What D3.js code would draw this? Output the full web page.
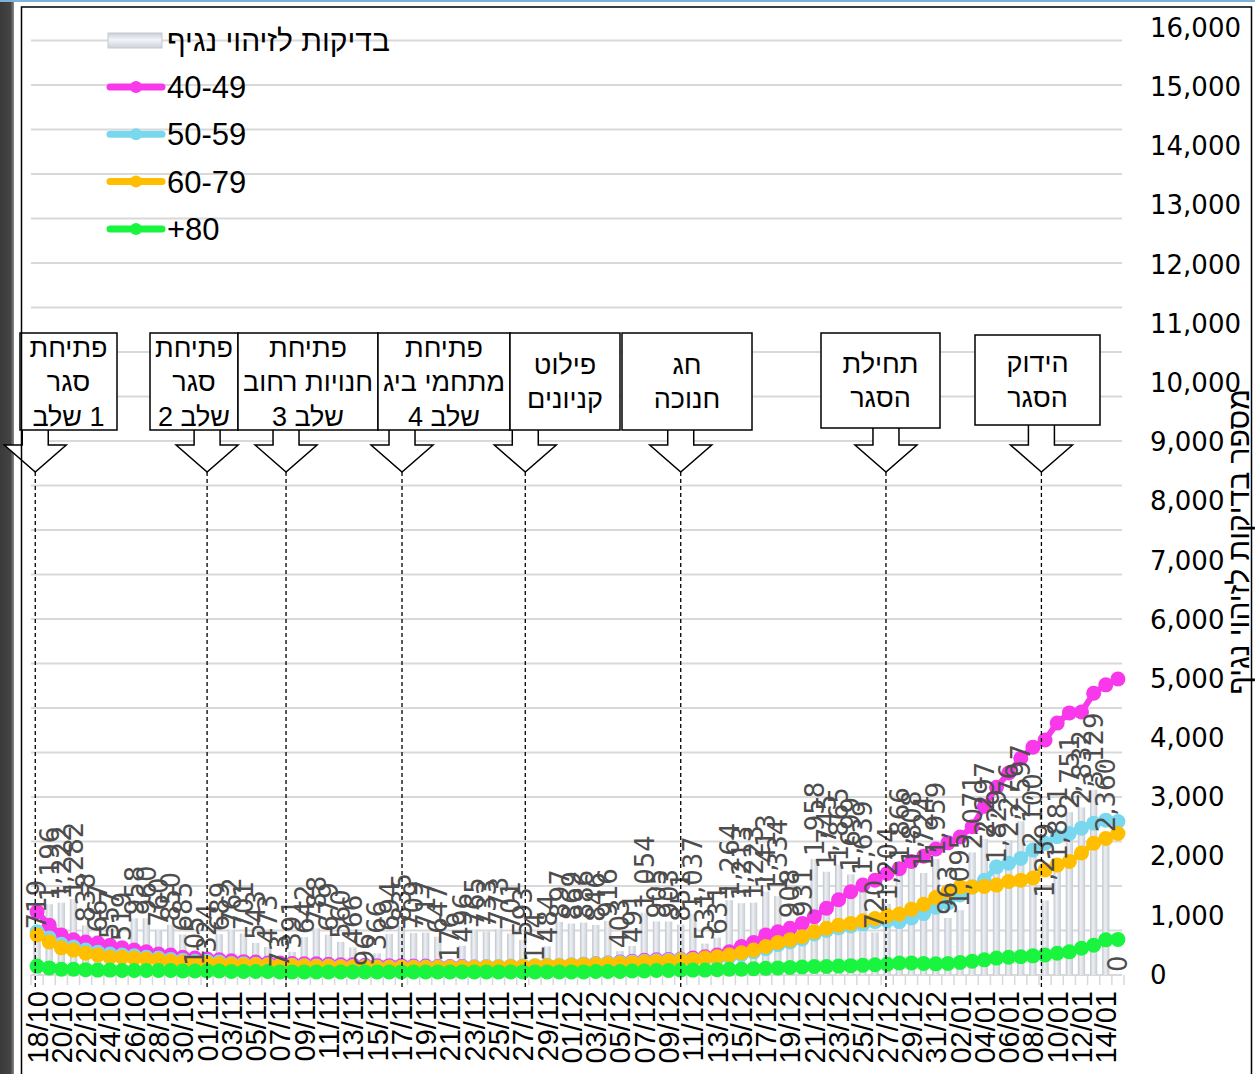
<!DOCTYPE html>
<html>
<head>
<meta charset="utf-8">
<script src="https://cdn.jsdelivr.net/npm/d3@7"></script>
<style>
  body { margin: 0; background: #fff; }
  svg { display: block; }
</style>
</head>
<body>
<svg id="chart" width="1255" height="1074"></svg>
<script>
// daily categories 18/10 .. 15/01
const dates = [
  "18/10","19/10","20/10","21/10","22/10","23/10","24/10","25/10","26/10","27/10","28/10","29/10","30/10","31/10",
  "01/11","02/11","03/11","04/11","05/11","06/11","07/11","08/11","09/11","10/11","11/11","12/11","13/11","14/11","15/11",
  "16/11","17/11","18/11","19/11","20/11","21/11","22/11","23/11","24/11","25/11","26/11","27/11","28/11","29/11","30/11",
  "01/12","02/12","03/12","04/12","05/12","06/12","07/12","08/12","09/12","10/12","11/12","12/12","13/12","14/12","15/12",
  "16/12","17/12","18/12","19/12","20/12","21/12","22/12","23/12","24/12","25/12","26/12","27/12","28/12","29/12","30/12","31/12",
  "01/01","02/01","03/01","04/01","05/01","06/01","07/01","08/01","09/01","10/01","11/01","12/01","13/01","14/01","15/01"
];

// bars: tests for virus detection (right axis)
const tests = [
  719, 1196, 1222, 1282, 838, 667, 557, 519, 958, 960,
  760, 850, 685, 105, 324, 689, 762, 701, 543, 473,
  73, 391, 642, 788, 679, 560, 466, 96, 366, 694,
  835, 709, 717, 647, 176, 496, 765, 733, 773, 701,
  593, 174, 484, 897, 869, 886, 846, 916, 403, 491,
  1054, 905, 903, 851, 1037, 531, 631, 1264, 1213, 1223,
  1413, 1334, 908, 931, 1958, 1745, 1865, 1699, 1639, 720,
  1204, 1866, 1808, 1724, 1959, 963, 1095, 2071, 2297, 1829,
  2276, 2597, 2100, 1259, 1881, 2751, 2832, 3129, 2360, 0
];

// age group lines (hidden primary axis)
const age4049 = [
  142, 112, 90, 79, 74, 72, 67, 61, 56, 52,
  47, 45, 40, 38, 36, 34, 32, 30, 29, 27,
  27, 26, 25, 25, 24, 23, 23, 22, 21, 21,
  21, 20, 20, 19, 19, 19, 18, 18, 17, 17,
  17, 18, 19, 20, 22, 24, 25, 27, 29, 31,
  33, 34, 35, 36, 38, 41, 45, 52, 64, 73,
  90, 97, 105, 116, 131, 150, 169, 187, 202, 213,
  228, 239, 255, 267, 283, 297, 310, 333, 379, 422,
  454, 487, 512, 528, 566, 589, 591, 633, 652, 665
];
const age5059 = [
  97, 83, 69, 63, 56, 51, 47, 45, 43, 40,
  38, 35, 33, 31, 31, 29, 26, 25, 24, 23,
  22, 22, 21, 20, 20, 19, 19, 19, 18, 18,
  18, 18, 18, 18, 18, 18, 18, 19, 19, 20,
  20, 21, 22, 22, 23, 24, 25, 27, 28, 29,
  31, 32, 33, 35, 35, 37, 37, 41, 46, 52,
  59, 68, 74, 81, 92, 100, 106, 110, 115, 120,
  122, 120, 128, 138, 152, 162, 180, 198, 213, 243,
  251, 262, 281, 296, 311, 318, 330, 341, 348, 345
];
const age6079 = [
  90, 74, 61, 56, 49, 45, 40, 40, 38, 36,
  34, 31, 29, 27, 27, 25, 24, 23, 23, 22,
  21, 21, 20, 19, 19, 18, 18, 18, 17, 17,
  17, 17, 17, 17, 17, 17, 17, 18, 18, 19,
  19, 20, 21, 21, 22, 23, 24, 25, 26, 27,
  29, 30, 31, 33, 34, 38, 41, 45, 50, 56,
  64, 73, 79, 86, 97, 105, 112, 116, 122, 127,
  133, 137, 148, 159, 174, 187, 198, 198, 199, 202,
  210, 213, 218, 236, 247, 255, 274, 296, 307, 318
];
const age80 = [
  20, 16, 13, 13, 12, 11, 11, 10, 10, 10,
  10, 10, 9, 9, 9, 9, 8, 8, 8, 8,
  7, 7, 7, 7, 7, 7, 7, 7, 7, 7,
  7, 7, 7, 7, 7, 7, 7, 7, 7, 7,
  7, 7, 7, 7, 7, 7, 8, 8, 8, 9,
  9, 10, 10, 11, 11, 11, 12, 13, 13, 14,
  15, 16, 17, 18, 19, 19, 20, 21, 22, 23,
  24, 27, 27, 26, 25, 26, 28, 31, 34, 38,
  40, 41, 43, 45, 49, 52, 60, 67, 79, 80
];

const barName = "בדיקות לזיהוי נגיף";
const seriesNames = ["40-49", "50-59", "60-79", "+80"];
const seriesColors = ["#f838ea", "#7ad8ee", "#ffbe00", "#19f53f"];
const yTicks = [0, 1000, 2000, 3000, 4000, 5000, 6000, 7000, 8000, 9000, 10000, 11000, 12000, 13000, 14000, 15000, 16000];
const yTitle = "מספר בדיקות לזיהוי נגיף";

// events marked on the chart
const eventDates = ["18/10", "01/11", "08/11", "17/11", "27/11", "10/12", "27/12", "08/01"];
const eventTexts = [
  ["פתיחת", "סגר", "שלב\u200E 1"],
  ["פתיחת", "סגר", "שלב 2"],
  ["פתיחת", "חנויות רחוב", "שלב 3"],
  ["פתיחת", "מתחמי ביג", "שלב 4"],
  ["פילוט", "קניונים"],
  ["חג", "חנוכה"],
  ["תחילת", "הסגר"],
  ["הידוק", "הסגר"]
];
// box layout (px) and small nudges of the arrow in day steps
const boxes = [
  { x0: 20, x1: 117, y0: 333, y1: 430, nudge: -0.15, dir: "ltr" },
  { x0: 150, x1: 238, y0: 333, y1: 430, nudge: 0, dir: "rtl" },
  { x0: 238, x1: 378, y0: 333, y1: 430, nudge: -0.5, dir: "rtl" },
  { x0: 378, x1: 510, y0: 333, y1: 430, nudge: 0.05, dir: "rtl" },
  { x0: 510, x1: 620, y0: 333, y1: 430, nudge: 0.2, dir: "rtl" },
  { x0: 622, x1: 752, y0: 333, y1: 430, nudge: 0, dir: "rtl" },
  { x0: 821, x1: 940, y0: 333, y1: 428, nudge: -0.1, dir: "rtl" },
  { x0: 975, x1: 1100, y0: 335, y1: 425, nudge: 0.7, dir: "rtl" }
];

const svg = d3.select("#chart");
const plot = { left: 31, right: 1124, top: 28, bottom: 975 };

const x = d3.scaleBand().domain(dates)
  .range([plot.left, plot.right])
  .paddingInner(0.4).paddingOuter(0.2);
const cx = (d) => x(d) + x.bandwidth() / 2;
const step = x.step();

const yBars = d3.scaleLinear().domain([0, 16000]).range([plot.bottom, plot.top]);
const yCases = d3.scaleLinear().domain([0, 2128]).range([plot.bottom, plot.top]);

const defs = svg.append("defs");
const barGrad = defs.append("linearGradient").attr("id", "barGrad")
  .attr("x1", "0").attr("x2", "1").attr("y1", "0").attr("y2", "0");
barGrad.append("stop").attr("offset", "0%").attr("stop-color", "#bfc5ce");
barGrad.append("stop").attr("offset", "40%").attr("stop-color", "#eef0f3");
barGrad.append("stop").attr("offset", "100%").attr("stop-color", "#c6ccd4");
const legGrad = defs.append("linearGradient").attr("id", "legGrad")
  .attr("x1", "0").attr("x2", "0").attr("y1", "0").attr("y2", "1");
legGrad.append("stop").attr("offset", "0%").attr("stop-color", "#c9ced6");
legGrad.append("stop").attr("offset", "45%").attr("stop-color", "#f2f4f6");
legGrad.append("stop").attr("offset", "100%").attr("stop-color", "#cdd2d9");
const stripGrad = defs.append("linearGradient").attr("id", "stripGrad");
stripGrad.append("stop").attr("offset", "0%").attr("stop-color", "#3a3a3a");
stripGrad.append("stop").attr("offset", "75%").attr("stop-color", "#444");
stripGrad.append("stop").attr("offset", "100%").attr("stop-color", "#8a8a8a");

// frame
svg.append("rect").attr("x", 0).attr("y", 2).attr("width", 14).attr("height", 1072).attr("fill", "url(#stripGrad)");
svg.append("rect").attr("x", 0).attr("y", 0).attr("width", 1255).attr("height", 2).attr("fill", "#7fb1d8");

// gridlines (primary axis, every 100)
svg.append("g").selectAll("line")
  .data(d3.range(0, 2101, 100))
  .join("line")
  .attr("x1", plot.left).attr("x2", plot.right - 2)
  .attr("y1", (d) => yCases(d)).attr("y2", (d) => yCases(d))
  .attr("stroke", "#d9d9d9").attr("stroke-width", 2);

// category ticks
svg.append("g").selectAll("line")
  .data(d3.range(dates.length + 1))
  .join("line")
  .attr("x1", (i) => plot.left + i * step).attr("x2", (i) => plot.left + i * step)
  .attr("y1", plot.bottom).attr("y2", plot.bottom + 10)
  .attr("stroke", "#d9d9d9").attr("stroke-width", 1.5);

// bars
svg.append("g").selectAll("rect")
  .data(tests)
  .join("rect")
  .attr("x", (d, i) => x(dates[i]))
  .attr("width", x.bandwidth())
  .attr("y", (d) => yBars(d))
  .attr("height", (d) => yBars(0) - yBars(d))
  .attr("fill", "url(#barGrad)");

// lines with markers
const series = [age4049, age5059, age6079, age80];
const line = d3.line().x((d, i) => cx(dates[i])).y((d) => yCases(d));
series.forEach((vals, k) => {
  const g = svg.append("g");
  g.append("path").attr("d", line(vals))
    .attr("fill", "none").attr("stroke", seriesColors[k])
    .attr("stroke-width", 6).attr("stroke-linejoin", "round");
  g.selectAll("circle").data(vals).join("circle")
    .attr("cx", (d, i) => cx(dates[i]))
    .attr("cy", (d) => yCases(d))
    .attr("r", 7.5)
    .attr("fill", seriesColors[k]);
});

// bar data labels
const fmt = d3.format(",");
svg.append("g").selectAll("text")
  .data(tests)
  .join("text")
  .attr("transform", (d, i) => `translate(${cx(dates[i])},${yBars(d) - 3}) rotate(-90)`)
  .attr("dy", "0.36em")
  .attr("font-family", "DejaVu Sans, sans-serif")
  .attr("font-size", 26)
  .attr("fill", "#4d4d4d")
  .text((d) => fmt(d));

// x axis labels (every second day)
svg.append("g").selectAll("text")
  .data(dates.filter((d, i) => i % 2 === 0))
  .join("text")
  .attr("transform", (d) => `translate(${cx(d)},${plot.bottom + 16}) rotate(-90)`)
  .attr("dy", "0.36em")
  .attr("text-anchor", "end")
  .attr("font-family", "Liberation Sans, Arial, sans-serif")
  .attr("font-size", 29)
  .attr("fill", "#000")
  .text((d) => d);

// right axis
const axis = svg.append("g")
  .attr("transform", "translate(1150,0)")
  .call(d3.axisRight(yBars).tickValues(yTicks).tickSize(0).tickPadding(0).tickFormat(fmt));
axis.select(".domain").remove();
axis.selectAll("text")
  .attr("x", 0)
  .attr("text-anchor", "start")
  .attr("font-family", "DejaVu Sans, sans-serif")
  .attr("font-size", 26)
  .attr("fill", "#000");

svg.append("text")
  .attr("transform", "translate(1238,542) rotate(-90)")
  .attr("dy", "0.36em")
  .attr("text-anchor", "middle")
  .attr("font-family", "Liberation Sans, Arial, sans-serif")
  .attr("font-size", 30)
  .attr("fill", "#000")
  .text(yTitle);

// event markers: dashed line, arrow, box
eventDates.forEach((d, k) => {
  const b = boxes[k];
  const ex = cx(d) + b.nudge * step;
  svg.append("line")
    .attr("x1", ex).attr("x2", ex)
    .attr("y1", 472).attr("y2", plot.bottom + 12)
    .attr("stroke", "#000").attr("stroke-width", 1.3)
    .attr("stroke-dasharray", "4,3");
  const headTop = 445, tip = 472;
  svg.append("path")
    .attr("d", `M${ex - 13},${b.y1} L${ex - 13},${headTop} L${ex - 31},${headTop} L${ex},${tip} L${ex + 31},${headTop} L${ex + 13},${headTop} L${ex + 13},${b.y1}`)
    .attr("fill", "#fff").attr("stroke", "#000").attr("stroke-width", 1.5);
});
eventDates.forEach((d, k) => {
  const b = boxes[k];
  svg.append("rect")
    .attr("x", b.x0).attr("y", b.y0)
    .attr("width", b.x1 - b.x0).attr("height", b.y1 - b.y0)
    .attr("fill", "#fff").attr("stroke", "#000").attr("stroke-width", 1.5);
  const lines = eventTexts[k];
  const mid = (b.y0 + b.y1) / 2;
  const gap = 34.5;
  lines.forEach((t, j) => {
    svg.append("text")
      .attr("x", (b.x0 + b.x1) / 2)
      .attr("y", mid + (j - (lines.length - 1) / 2) * gap)
      .attr("dy", "0.36em")
      .attr("text-anchor", "middle")
      .attr("direction", b.dir)
      .attr("font-family", "Liberation Sans, Arial, sans-serif")
      .attr("font-size", 27)
      .attr("fill", "#000")
      .text(t);
  });
});

// legend
const leg = svg.append("g");
leg.append("rect").attr("x", 108).attr("y", 33).attr("width", 54).attr("height", 15)
  .attr("fill", "url(#legGrad)").attr("stroke", "#c3c8cf").attr("stroke-width", 1);
leg.append("text").attr("x", 167).attr("y", 40).attr("dy", "0.36em")
  .attr("font-family", "Liberation Sans, Arial, sans-serif").attr("font-size", 30)
  .attr("fill", "#000").text(barName);
seriesNames.forEach((n, k) => {
  const ly = 87 + k * 47.3;
  leg.append("line").attr("x1", 110).attr("x2", 162).attr("y1", ly).attr("y2", ly)
    .attr("stroke", seriesColors[k]).attr("stroke-width", 7).attr("stroke-linecap", "round");
  leg.append("circle").attr("cx", 136).attr("cy", ly).attr("r", 6).attr("fill", seriesColors[k]);
  leg.append("text").attr("x", 167).attr("y", ly).attr("dy", "0.36em")
    .attr("font-family", "Liberation Sans, Arial, sans-serif").attr("font-size", 31)
    .attr("fill", "#000").text(n);
});

// chart border
svg.append("path")
  .attr("d", "M21.5,1074 L21.5,7 L1251.5,7 L1251.5,1074")
  .attr("fill", "none").attr("stroke", "#000").attr("stroke-width", 1.5);
</script>
</body>
</html>
